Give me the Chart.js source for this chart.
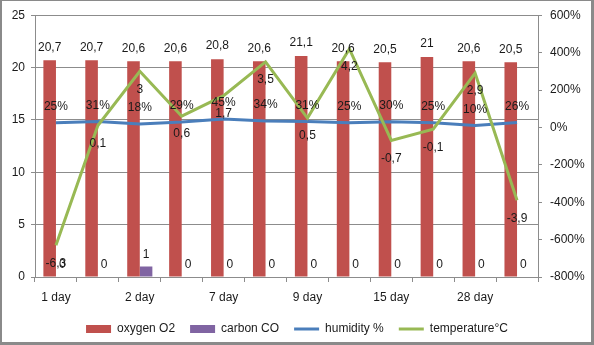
<!DOCTYPE html>
<html>
<head>
<meta charset="utf-8">
<script src="https://cdn.jsdelivr.net/npm/chart.js@4.4.1/dist/chart.umd.min.js"></script>
<style>
    html, body { margin: 0; padding: 0; background: #fff; }
    #wrap { position: relative; width: 594px; height: 345px; }
</style>
</head>
<body>
<div id="wrap"><canvas id="grafico" width="594" height="345"></canvas></div>
<script>
// values
const categories = ["1 day", "", "2 day", "", "7 day", "", "9 day", "", "15 day", "", "28 day", ""];
const oxygen = [20.7, 20.7, 20.6, 20.6, 20.8, 20.6, 21.1, 20.6, 20.5, 21, 20.6, 20.5];
const carbon = [0, 0, 1, 0, 0, 0, 0, 0, 0, 0, 0, 0];
const humidity = [0.25, 0.31, 0.18, 0.29, 0.45, 0.34, 0.31, 0.25, 0.30, 0.25, 0.10, 0.26];
const temperature = [-6.3, 0.1, 3, 0.6, 1.7, 3.5, 0.5, 4.2, -0.7, -0.1, 2.9, -3.9];

const leftTicks = [0, 5, 10, 15, 20, 25];
const rightTicks = [-8, -6, -4, -2, 0, 2, 4, 6];

const FONT = "'Liberation Sans', Arial, sans-serif";
const GRID = "#8c8c8c";

const comma = v => String(v).replace(".", ",");
const percent = v => Math.round(v * 100) + "%";

// label offset (px) from the element and format, per dataset index
const labelStyle = [
    { dy: -13, fmt: comma },
    { dy: -12, fmt: comma },
    { dy: -16, fmt: percent },
    { dy: 18, fmt: comma }
];

const valueLabels = {
    id: "valueLabels",
    afterDatasetsDraw(chart) {
        const ctx = chart.ctx;
        ctx.save();
        ctx.font = "12px " + FONT;
        ctx.fillStyle = "#1a1a1a";
        ctx.textAlign = "center";
        ctx.textBaseline = "middle";
        chart.data.datasets.forEach((ds, i) => {
            const meta = chart.getDatasetMeta(i);
            const st = labelStyle[i];
            meta.data.forEach((el, j) => {
                ctx.fillText(st.fmt(ds.data[j]), el.x, el.y + st.dy);
            });
        });
        ctx.restore();
    }
};

const frame = {
    id: "frame",
    afterDraw(chart) {
        const ctx = chart.ctx;
        ctx.save();
        ctx.fillStyle = "#8a8a8a";
        ctx.fillRect(0, 0, 2, 345);
        ctx.fillRect(0, 0, 594, 1);
        ctx.fillRect(591, 0, 3, 345);
        ctx.fillRect(0, 342, 594, 3);
        ctx.restore();
    }
};

new Chart(document.getElementById("grafico"), {
    type: "bar",
    data: {
        labels: categories,
        datasets: [
            {
                label: "oxygen O2",
                data: oxygen,
                backgroundColor: "#c0504d",
                borderWidth: 0,
                yAxisID: "y",
                pointStyle: "rect",
                order: 3
            },
            {
                label: "carbon CO",
                data: carbon,
                backgroundColor: "#8064a2",
                borderWidth: 0,
                yAxisID: "y",
                pointStyle: "rect",
                order: 4
            },
            {
                type: "line",
                label: "humidity %",
                data: humidity,
                borderColor: "#4a7ebb",
                backgroundColor: "#4a7ebb",
                borderWidth: 3,
                pointRadius: 0,
                pointStyle: "line",
                tension: 0,
                yAxisID: "y1",
                order: 2
            },
            {
                type: "line",
                label: "temperature°C",
                data: temperature,
                borderColor: "#98b954",
                backgroundColor: "#98b954",
                borderWidth: 3,
                pointRadius: 0,
                pointStyle: "line",
                tension: 0,
                yAxisID: "y1",
                order: 1
            }
        ]
    },
    options: {
        responsive: false,
        animation: false,
        devicePixelRatio: 1,
        layout: { padding: { top: 15, left: 0, right: 0, bottom: 0 } },
        datasets: {
            bar: { categoryPercentage: 0.6, barPercentage: 1 }
        },
        plugins: {
            legend: {
                position: "bottom",
                labels: {
                    usePointStyle: true,
                    pointStyleWidth: 25,
                    boxHeight: 8,
                    padding: 15,
                    color: "#1a1a1a",
                    font: { family: FONT, size: 12 },
                    sort: (a, b) => a.datasetIndex - b.datasetIndex
                }
            },
            tooltip: { enabled: false }
        },
        scales: {
            x: {
                grid: {
                    offset: true,
                    drawOnChartArea: false,
                    tickLength: 5,
                    color: GRID
                },
                border: { color: GRID },
                ticks: {
                    autoSkip: false,
                    maxRotation: 0,
                    padding: 8,
                    color: "#1a1a1a",
                    font: { family: FONT, size: 12 }
                },
                afterFit(scale) { scale.height = 31; }
            },
            y: {
                position: "left",
                min: leftTicks[0],
                max: leftTicks[leftTicks.length - 1],
                afterBuildTicks(scale) {
                    scale.ticks = leftTicks.map(v => ({ value: v }));
                },
                grid: { color: GRID, tickLength: 4 },
                border: { color: GRID },
                ticks: {
                    padding: 6,
                    color: "#1a1a1a",
                    font: { family: FONT, size: 12 }
                },
                afterFit(scale) { scale.width = 35; }
            },
            y1: {
                position: "right",
                min: rightTicks[0],
                max: rightTicks[rightTicks.length - 1],
                afterBuildTicks(scale) {
                    scale.ticks = rightTicks.map(v => ({ value: v }));
                },
                grid: { drawOnChartArea: false, color: GRID, tickLength: 4 },
                border: { color: GRID },
                ticks: {
                    padding: 8,
                    color: "#1a1a1a",
                    font: { family: FONT, size: 12 },
                    callback: v => percent(v)
                },
                afterFit(scale) { scale.width = 56; }
            }
        }
    },
    plugins: [valueLabels, frame]
});
</script>
</body>
</html>
